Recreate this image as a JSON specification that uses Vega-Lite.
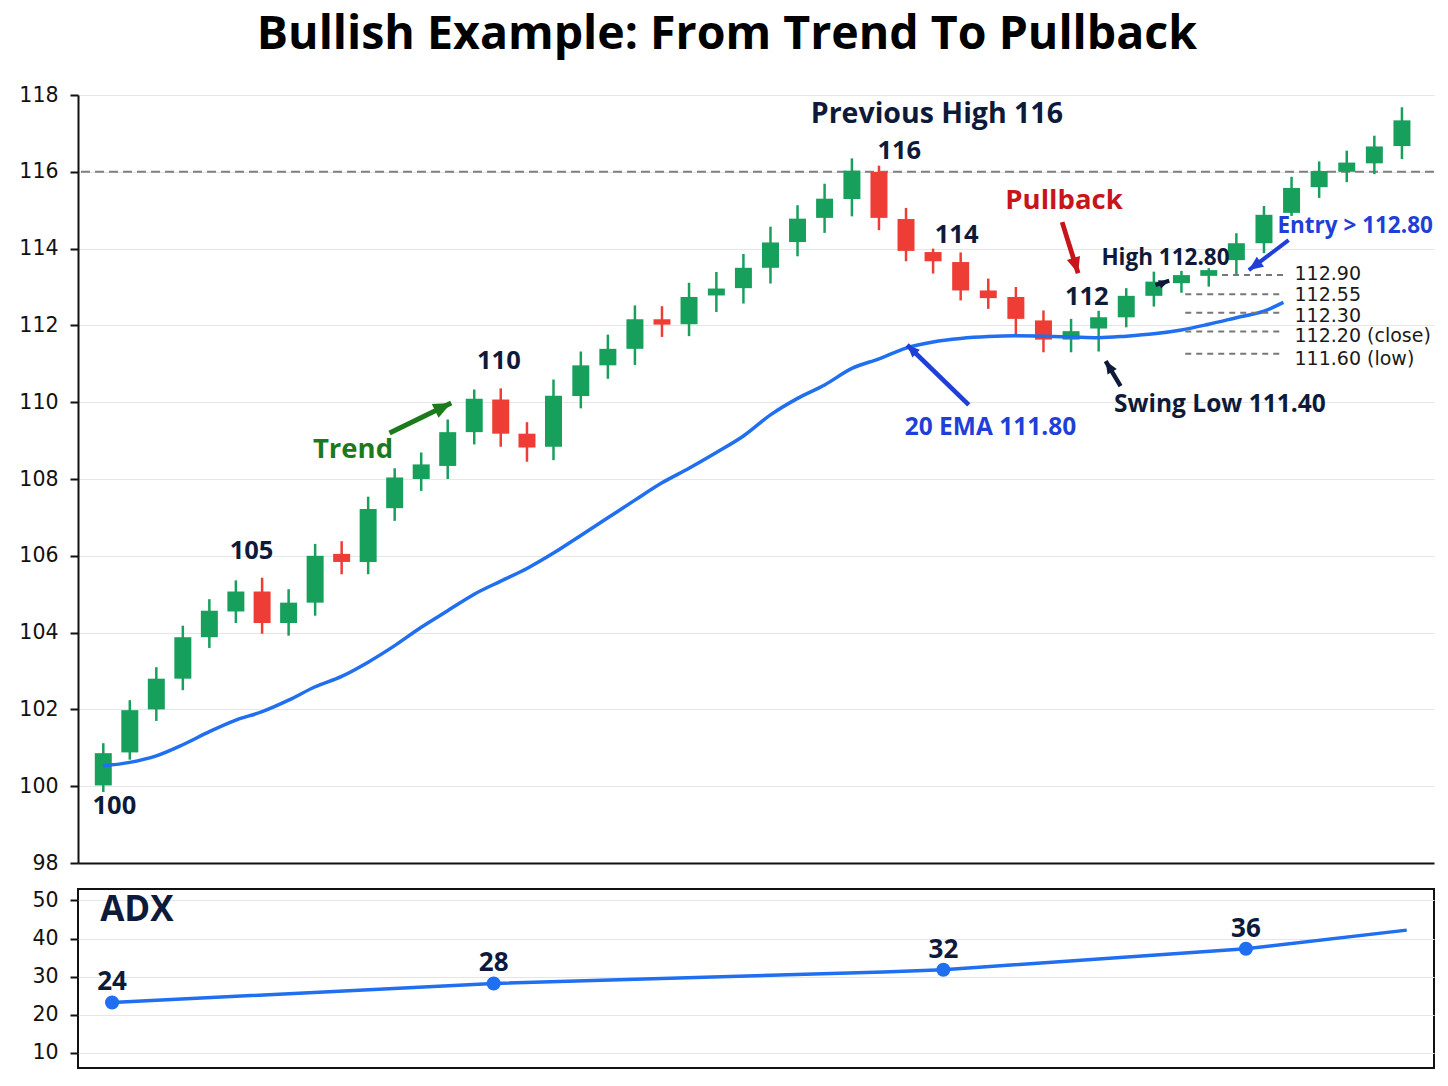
{
  "$schema": "https://vega.github.io/schema/vega-lite/v6.json",
  "background": "white",
  "padding": {"left": 18, "top": 11, "right": 16, "bottom": 17},
  "spacing": 14,
  "title": {
    "text": "Bullish Example: From Trend To Pullback",
    "font": "Open Sans",
    "fontSize": 46.5,
    "fontWeight": "bold",
    "color": "#000000",
    "anchor": "middle",
    "frame": "bounds",
    "offset": 27
  },
  "config": {
    "font": "Open Sans",
    "view": {"stroke": null},
    "axis": {
      "labelFont": "DejaVu Sans",
      "labelFontSize": 20.5,
      "labelColor": "#111111",
      "tickColor": "#111111",
      "tickSize": 8,
      "tickWidth": 2,
      "domainColor": "#111111",
      "domainWidth": 2,
      "gridColor": "#e6e6e6",
      "gridWidth": 1,
      "labelPadding": 12
    }
  },
  "datasets": {
    "candles": [
      {"t":0,"open":100.02,"high":101.12,"low":99.85,"close":100.86},
      {"t":0.98,"open":100.88,"high":102.24,"low":100.69,"close":101.98},
      {"t":1.96,"open":102.0,"high":103.1,"low":101.7,"close":102.8},
      {"t":2.94,"open":102.8,"high":104.18,"low":102.5,"close":103.88},
      {"t":3.92,"open":103.88,"high":104.87,"low":103.6,"close":104.57},
      {"t":4.9,"open":104.55,"high":105.36,"low":104.25,"close":105.07},
      {"t":5.87,"open":105.07,"high":105.43,"low":103.97,"close":104.25},
      {"t":6.85,"open":104.25,"high":105.13,"low":103.92,"close":104.78},
      {"t":7.83,"open":104.78,"high":106.31,"low":104.44,"close":106.0},
      {"t":8.81,"open":106.05,"high":106.38,"low":105.52,"close":105.84},
      {"t":9.79,"open":105.84,"high":107.54,"low":105.52,"close":107.22},
      {"t":10.77,"open":107.24,"high":108.28,"low":106.91,"close":108.04},
      {"t":11.75,"open":108.0,"high":108.69,"low":107.69,"close":108.38},
      {"t":12.73,"open":108.34,"high":109.55,"low":108.0,"close":109.22},
      {"t":13.71,"open":109.22,"high":110.33,"low":108.9,"close":110.09},
      {"t":14.69,"open":110.07,"high":110.36,"low":108.84,"close":109.18},
      {"t":15.66,"open":109.18,"high":109.48,"low":108.45,"close":108.82},
      {"t":16.64,"open":108.84,"high":110.59,"low":108.49,"close":110.17},
      {"t":17.65,"open":110.16,"high":111.32,"low":109.84,"close":110.96},
      {"t":18.65,"open":110.96,"high":111.76,"low":110.61,"close":111.39},
      {"t":19.65,"open":111.39,"high":112.52,"low":110.97,"close":112.16},
      {"t":20.65,"open":112.16,"high":112.5,"low":111.7,"close":112.02},
      {"t":21.65,"open":112.03,"high":113.11,"low":111.72,"close":112.74},
      {"t":22.66,"open":112.78,"high":113.39,"low":112.35,"close":112.96},
      {"t":23.66,"open":112.97,"high":113.86,"low":112.57,"close":113.5},
      {"t":24.66,"open":113.5,"high":114.57,"low":113.09,"close":114.16},
      {"t":25.66,"open":114.17,"high":115.13,"low":113.8,"close":114.78},
      {"t":26.66,"open":114.8,"high":115.69,"low":114.41,"close":115.3},
      {"t":27.67,"open":115.29,"high":116.35,"low":114.84,"close":116.03},
      {"t":28.67,"open":116.0,"high":116.16,"low":114.48,"close":114.8},
      {"t":29.67,"open":114.77,"high":115.06,"low":113.67,"close":113.94},
      {"t":30.67,"open":113.91,"high":114.0,"low":113.35,"close":113.67},
      {"t":31.69,"open":113.65,"high":113.9,"low":112.65,"close":112.91},
      {"t":32.71,"open":112.91,"high":113.22,"low":112.43,"close":112.71},
      {"t":33.73,"open":112.74,"high":113.0,"low":111.76,"close":112.17},
      {"t":34.75,"open":112.13,"high":112.39,"low":111.3,"close":111.63},
      {"t":35.77,"open":111.63,"high":112.17,"low":111.3,"close":111.85},
      {"t":36.79,"open":111.92,"high":112.38,"low":111.32,"close":112.21},
      {"t":37.81,"open":112.21,"high":112.97,"low":111.95,"close":112.77},
      {"t":38.83,"open":112.77,"high":113.4,"low":112.49,"close":113.14},
      {"t":39.85,"open":113.1,"high":113.42,"low":112.85,"close":113.31},
      {"t":40.86,"open":113.29,"high":113.49,"low":113.01,"close":113.44},
      {"t":41.88,"open":113.7,"high":114.4,"low":113.34,"close":114.14},
      {"t":42.9,"open":114.14,"high":115.11,"low":113.88,"close":114.88},
      {"t":43.92,"open":114.93,"high":115.87,"low":114.85,"close":115.58},
      {"t":44.94,"open":115.6,"high":116.27,"low":115.32,"close":116.02},
      {"t":45.96,"open":116.0,"high":116.55,"low":115.73,"close":116.24},
      {"t":46.98,"open":116.22,"high":116.94,"low":115.94,"close":116.66},
      {"t":48.0,"open":116.67,"high":117.68,"low":116.33,"close":117.34}
    ],
    "ema": [
      {"t":0,"ema":100.53},{"t":0.98,"ema":100.62},{"t":1.96,"ema":100.79},{"t":2.94,"ema":101.08},
      {"t":3.92,"ema":101.42},{"t":4.9,"ema":101.72},{"t":5.87,"ema":101.94},{"t":6.85,"ema":102.24},
      {"t":7.83,"ema":102.59},{"t":8.81,"ema":102.86},{"t":9.79,"ema":103.23},{"t":10.77,"ema":103.66},
      {"t":11.75,"ema":104.14},{"t":12.73,"ema":104.57},{"t":13.71,"ema":105.0},{"t":14.69,"ema":105.34},
      {"t":15.66,"ema":105.67},{"t":16.64,"ema":106.07},{"t":17.65,"ema":106.53},{"t":18.65,"ema":106.99},
      {"t":19.65,"ema":107.45},{"t":20.65,"ema":107.9},{"t":21.65,"ema":108.28},{"t":22.66,"ema":108.69},
      {"t":23.66,"ema":109.12},{"t":24.66,"ema":109.67},{"t":25.66,"ema":110.1},{"t":26.66,"ema":110.45},
      {"t":27.67,"ema":110.88},{"t":28.67,"ema":111.13},{"t":29.67,"ema":111.41},{"t":30.67,"ema":111.57},
      {"t":31.69,"ema":111.66},{"t":32.71,"ema":111.71},{"t":33.73,"ema":111.73},{"t":34.75,"ema":111.72},
      {"t":35.77,"ema":111.7},{"t":36.79,"ema":111.68},{"t":37.81,"ema":111.72},{"t":38.83,"ema":111.78},
      {"t":39.85,"ema":111.88},{"t":40.86,"ema":112.03},{"t":41.88,"ema":112.2},{"t":42.9,"ema":112.37},
      {"t":43.62,"ema":112.6}
    ],
    "levels": [{"level":116}],
    "leaders": [
      {"x":41.35,"x2":43.62,"y":113.31,"lx":44.03,"ly":113.34,"label":"112.90"},
      {"x":39.99,"x2":43.62,"y":112.81,"lx":44.03,"ly":112.79,"label":"112.55"},
      {"x":39.99,"x2":43.62,"y":112.33,"lx":44.03,"ly":112.245,"label":"112.30"},
      {"x":39.99,"x2":43.62,"y":111.84,"lx":44.03,"ly":111.72,"label":"112.20 (close)"},
      {"x":39.99,"x2":43.62,"y":111.26,"lx":44.03,"ly":111.125,"label":"111.60 (low)"}
    ],
    "labels": [
      {"x":0.41,"y":99.48,"text":"100","tone":"navy","tier":"number"},
      {"x":5.48,"y":106.125,"text":"105","tone":"navy","tier":"number"},
      {"x":14.62,"y":111.07,"text":"110","tone":"navy","tier":"number"},
      {"x":29.42,"y":116.54,"text":"116","tone":"navy","tier":"number"},
      {"x":31.54,"y":114.35,"text":"114","tone":"navy","tier":"number"},
      {"x":36.35,"y":112.74,"text":"112","tone":"navy","tier":"number"},
      {"x":30.81,"y":117.5,"text":"Previous High 116","tone":"navy","tier":"banner"},
      {"x":35.51,"y":115.24,"text":"Pullback","tone":"red","tier":"heading"},
      {"x":9.23,"y":108.76,"text":"Trend","tone":"green","tier":"heading"},
      {"x":39.26,"y":113.76,"text":"High 112.80","tone":"navy","tier":"small"},
      {"x":46.27,"y":114.59,"text":"Entry > 112.80","tone":"blue","tier":"small"},
      {"x":32.79,"y":109.33,"text":"20 EMA 111.80","tone":"blue","tier":"note"},
      {"x":41.27,"y":109.93,"text":"Swing Low 111.40","tone":"navy","tier":"note"}
    ],
    "arrows": [
      {"name":"trend","x":10.58,"y":109.2,"x2":12.86,"y2":109.98},
      {"name":"pullback","x":35.44,"y":114.69,"x2":36.03,"y2":113.36},
      {"name":"ema","x":31.99,"y":109.93,"x2":29.71,"y2":111.49},
      {"name":"swing","x":37.6,"y":110.42,"x2":37.05,"y2":111.07},
      {"name":"high","x":38.89,"y":113.05,"x2":39.4,"y2":113.16},
      {"name":"entry","x":43.81,"y":114.22,"x2":42.34,"y2":113.44}
    ],
    "adx": [
      {"t":0.5,"adx":23.2},{"t":14.5,"adx":28.2},{"t":28.8,"adx":31.2},
      {"t":31.0,"adx":31.8},{"t":42.1,"adx":37.3},{"t":48.0,"adx":42.2}
    ],
    "adxdots": [
      {"t":0.5,"adx":23.2,"label":"24"},
      {"t":14.5,"adx":28.2,"label":"28"},
      {"t":31.0,"adx":31.8,"label":"32"},
      {"t":42.1,"adx":37.3,"label":"36"}
    ],
    "adxtitle": [{"x":1.41,"y":47.4,"text":"ADX"}]
  },
  "vconcat": [
    {
      "width": 1356,
      "height": 768,
      "resolve": {"scale": {"color": "independent", "strokeWidth": "independent"}},
      "layer": [
        {
          "data": {"name": "levels"},
          "mark": {"type": "rule", "color": "#808080", "strokeWidth": 2, "strokeDash": [9, 5]},
          "encoding": {
            "y": {"field": "level", "type": "quantitative", "title": null, "scale": {"domain": [98, 118], "nice": false, "zero": false},
                  "axis": {"title": null, "values": [98,100,102,104,106,108,110,112,114,116,118], "grid": true, "domain": true}}
          }
        },
        {
          "data": {"name": "candles"},
          "mark": {"type": "rule", "strokeWidth": 2.5},
          "encoding": {
            "x": {"field": "t", "type": "quantitative", "title": null, "scale": {"domain": [-0.75, 49], "nice": false, "zero": false},
                  "axis": {"title": null, "labels": false, "ticks": false, "grid": false, "domain": true}},
            "y": {"field": "low", "type": "quantitative", "title": null},
            "y2": {"field": "high"},
            "color": {"condition": {"test": "datum.close < datum.open", "value": "#ee3d35"}, "value": "#17a05c"}
          }
        },
        {
          "data": {"name": "candles"},
          "mark": {"type": "bar", "width": 17},
          "encoding": {
            "x": {"field": "t", "type": "quantitative", "title": null},
            "y": {"field": "open", "type": "quantitative", "title": null},
            "y2": {"field": "close"},
            "color": {"condition": {"test": "datum.close < datum.open", "value": "#ee3d35"}, "value": "#17a05c"}
          }
        },
        {
          "data": {"name": "ema"},
          "mark": {"type": "line", "color": "#1f6ff0", "strokeWidth": 3.5, "interpolate": "monotone"},
          "encoding": {
            "x": {"field": "t", "type": "quantitative", "title": null},
            "y": {"field": "ema", "type": "quantitative", "title": null}
          }
        },
        {
          "data": {"name": "leaders"},
          "mark": {"type": "rule", "color": "#777777", "strokeWidth": 2, "strokeDash": [6, 5]},
          "encoding": {
            "x": {"field": "x", "type": "quantitative", "title": null},
            "x2": {"field": "x2"},
            "y": {"field": "y", "type": "quantitative", "title": null}
          }
        },
        {
          "data": {"name": "leaders"},
          "mark": {"type": "text", "align": "left", "baseline": "middle", "font": "DejaVu Sans", "fontSize": 19, "color": "#1a1a1a"},
          "encoding": {
            "x": {"field": "lx", "type": "quantitative", "title": null},
            "y": {"field": "ly", "type": "quantitative", "title": null},
            "text": {"field": "label"}
          }
        },
        {
          "data": {"name": "arrows"},
          "mark": {"type": "rule", "strokeCap": "butt"},
          "encoding": {
            "x": {"field": "x", "type": "quantitative", "title": null},
            "y": {"field": "y", "type": "quantitative", "title": null},
            "x2": {"field": "x2"},
            "y2": {"field": "y2"},
            "color": {"field": "name", "type": "nominal", "legend": null,
                      "scale": {"domain": ["trend","pullback","ema","swing","high","entry"],
                                "range": ["#1b7a1b","#c8141b","#1f3fd8","#0e1a3a","#0e1a3a","#1f3fd8"]}},
            "strokeWidth": {"field": "name", "type": "nominal", "legend": null,
                            "scale": {"domain": ["trend","pullback","ema","swing","high","entry"],
                                      "range": [5, 4, 3, 3.5, 3, 4]}}
          }
        },
        {
          "data": {"name": "arrows"},
          "transform": [{"filter": "datum.name == 'trend'"}],
          "mark": {"type": "point", "shape": "M0,0L0.6,1.4L-0.6,1.4Z", "filled": true, "opacity": 1, "color": "#1b7a1b", "size": 650, "angle": 64},
          "encoding": {"x": {"field": "x2", "type": "quantitative", "title": null}, "y": {"field": "y2", "type": "quantitative", "title": null}}
        },
        {
          "data": {"name": "arrows"},
          "transform": [{"filter": "datum.name == 'pullback'"}],
          "mark": {"type": "point", "shape": "M0,0L0.6,1.4L-0.6,1.4Z", "filled": true, "opacity": 1, "color": "#c8141b", "size": 520, "angle": 163},
          "encoding": {"x": {"field": "x2", "type": "quantitative", "title": null}, "y": {"field": "y2", "type": "quantitative", "title": null}}
        },
        {
          "data": {"name": "arrows"},
          "transform": [{"filter": "datum.name == 'ema'"}],
          "mark": {"type": "point", "shape": "M0,0L0.6,1.4L-0.6,1.4Z", "filled": true, "opacity": 1, "color": "#1f3fd8", "size": 320, "angle": 314},
          "encoding": {"x": {"field": "x2", "type": "quantitative", "title": null}, "y": {"field": "y2", "type": "quantitative", "title": null}}
        },
        {
          "data": {"name": "arrows"},
          "transform": [{"filter": "datum.name == 'swing'"}],
          "mark": {"type": "point", "shape": "M0,0L0.6,1.4L-0.6,1.4Z", "filled": true, "opacity": 1, "color": "#0e1a3a", "size": 320, "angle": 329},
          "encoding": {"x": {"field": "x2", "type": "quantitative", "title": null}, "y": {"field": "y2", "type": "quantitative", "title": null}}
        },
        {
          "data": {"name": "arrows"},
          "transform": [{"filter": "datum.name == 'high'"}],
          "mark": {"type": "point", "shape": "M0,0L0.6,1.4L-0.6,1.4Z", "filled": true, "opacity": 1, "color": "#0e1a3a", "size": 220, "angle": 70},
          "encoding": {"x": {"field": "x2", "type": "quantitative", "title": null}, "y": {"field": "y2", "type": "quantitative", "title": null}}
        },
        {
          "data": {"name": "arrows"},
          "transform": [{"filter": "datum.name == 'entry'"}],
          "mark": {"type": "point", "shape": "M0,0L0.6,1.4L-0.6,1.4Z", "filled": true, "opacity": 1, "color": "#1f3fd8", "size": 420, "angle": 234},
          "encoding": {"x": {"field": "x2", "type": "quantitative", "title": null}, "y": {"field": "y2", "type": "quantitative", "title": null}}
        },
        {
          "data": {"name": "labels"},
          "transform": [{"filter": "datum.tier == 'number'"}],
          "mark": {"type": "text", "align": "center", "baseline": "middle", "font": "Open Sans", "fontWeight": "bold", "fontSize": 25.5, "color": "#0e1a3a"},
          "encoding": {
            "x": {"field": "x", "type": "quantitative", "title": null},
            "y": {"field": "y", "type": "quantitative", "title": null},
            "text": {"field": "text"}
          }
        },
        {
          "data": {"name": "labels"},
          "transform": [{"filter": "datum.tier == 'banner'"}],
          "mark": {"type": "text", "align": "center", "baseline": "middle", "font": "Open Sans", "fontWeight": "bold", "fontSize": 28.5, "color": "#0e1a3a"},
          "encoding": {
            "x": {"field": "x", "type": "quantitative", "title": null},
            "y": {"field": "y", "type": "quantitative", "title": null},
            "text": {"field": "text"}
          }
        },
        {
          "data": {"name": "labels"},
          "transform": [{"filter": "datum.tier == 'heading'"}],
          "mark": {"type": "text", "align": "center", "baseline": "middle", "font": "Open Sans", "fontWeight": "bold", "fontSize": 27.5},
          "encoding": {
            "x": {"field": "x", "type": "quantitative", "title": null},
            "y": {"field": "y", "type": "quantitative", "title": null},
            "text": {"field": "text"},
            "color": {"field": "tone", "type": "nominal", "legend": null,
                      "scale": {"domain": ["navy","red","green","blue"], "range": ["#0e1a3a","#c8141b","#1b7a1b","#1f3fd8"]}}
          }
        },
        {
          "data": {"name": "labels"},
          "transform": [{"filter": "datum.tier == 'note'"}],
          "mark": {"type": "text", "align": "center", "baseline": "middle", "font": "Open Sans", "fontWeight": "bold", "fontSize": 24.5},
          "encoding": {
            "x": {"field": "x", "type": "quantitative", "title": null},
            "y": {"field": "y", "type": "quantitative", "title": null},
            "text": {"field": "text"},
            "color": {"field": "tone", "type": "nominal", "legend": null,
                      "scale": {"domain": ["navy","red","green","blue"], "range": ["#0e1a3a","#c8141b","#1b7a1b","#1f3fd8"]}}
          }
        },
        {
          "data": {"name": "labels"},
          "transform": [{"filter": "datum.tier == 'small'"}],
          "mark": {"type": "text", "align": "center", "baseline": "middle", "font": "Open Sans", "fontWeight": "bold", "fontSize": 22.5},
          "encoding": {
            "x": {"field": "x", "type": "quantitative", "title": null},
            "y": {"field": "y", "type": "quantitative", "title": null},
            "text": {"field": "text"},
            "color": {"field": "tone", "type": "nominal", "legend": null,
                      "scale": {"domain": ["navy","red","green","blue"], "range": ["#0e1a3a","#c8141b","#1b7a1b","#1f3fd8"]}}
          }
        }
      ]
    },
    {
      "width": 1356,
      "height": 179,
      "view": {"stroke": "#111111", "strokeWidth": 2},
      "layer": [
        {
          "data": {"name": "adx"},
          "mark": {"type": "line", "color": "#1f6ff0", "strokeWidth": 3.5},
          "encoding": {
            "x": {"field": "t", "type": "quantitative", "title": null, "scale": {"domain": [-0.75, 49], "nice": false, "zero": false},
                  "axis": {"title": null, "labels": false, "ticks": false, "grid": false, "domain": false}},
            "y": {"field": "adx", "type": "quantitative", "title": null, "scale": {"domain": [6, 53], "nice": false, "zero": false},
                  "axis": {"title": null, "values": [10, 20, 30, 40, 50], "grid": true, "domain": false}}
          }
        },
        {
          "data": {"name": "adxdots"},
          "mark": {"type": "circle", "color": "#1f6ff0", "opacity": 1, "size": 200},
          "encoding": {
            "x": {"field": "t", "type": "quantitative", "title": null},
            "y": {"field": "adx", "type": "quantitative", "title": null}
          }
        },
        {
          "data": {"name": "adxdots"},
          "mark": {"type": "text", "align": "center", "baseline": "middle", "dy": -20, "font": "Open Sans", "fontWeight": "bold", "fontSize": 26, "color": "#0e1a3a"},
          "encoding": {
            "x": {"field": "t", "type": "quantitative", "title": null},
            "y": {"field": "adx", "type": "quantitative", "title": null},
            "text": {"field": "label"}
          }
        },
        {
          "data": {"name": "adxtitle"},
          "mark": {"type": "text", "align": "center", "baseline": "middle", "font": "Open Sans", "fontWeight": "bold", "fontSize": 35, "color": "#0e1a3a"},
          "encoding": {
            "x": {"field": "x", "type": "quantitative", "title": null},
            "y": {"field": "y", "type": "quantitative", "title": null},
            "text": {"field": "text"}
          }
        }
      ]
    }
  ]
}
